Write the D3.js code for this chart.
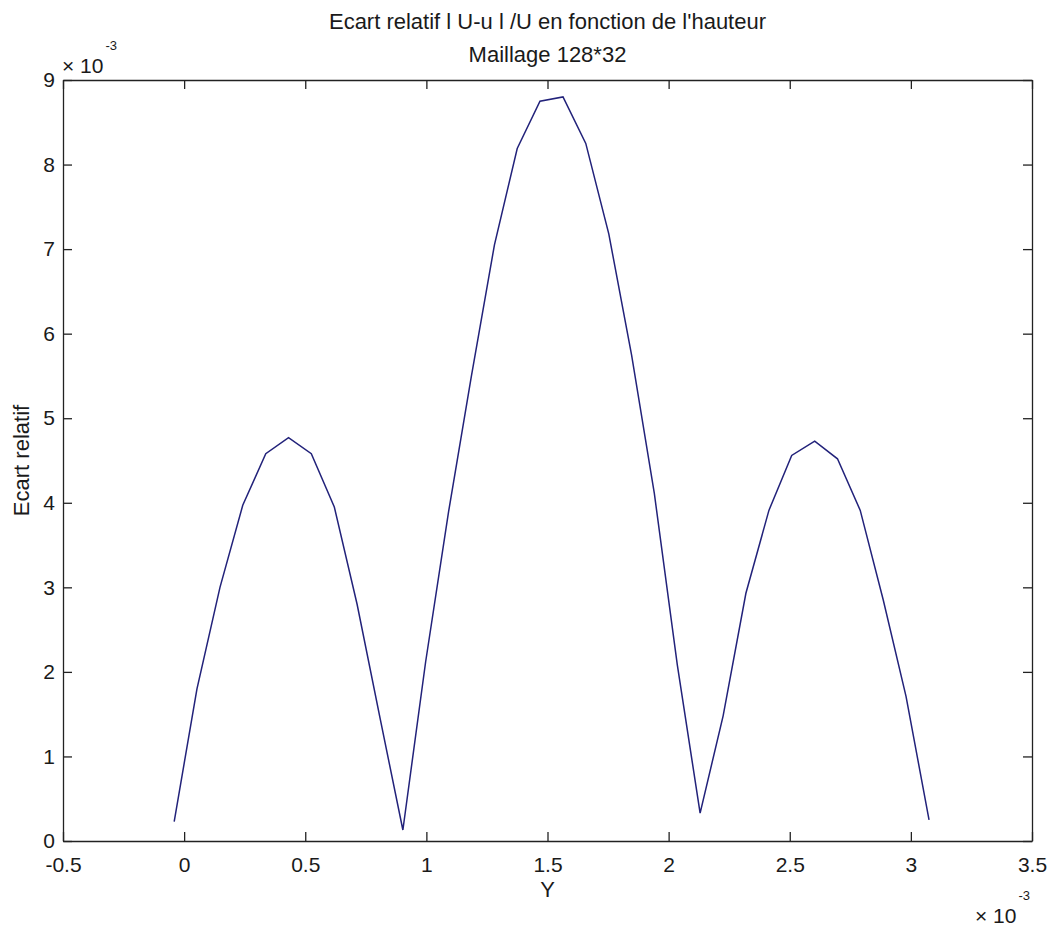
<!DOCTYPE html>
<html>
<head>
<meta charset="utf-8">
<script src="https://cdn.jsdelivr.net/npm/d3@7"></script>
<style>
  body { margin: 0; background: #fff; }
  text { font-family: "Liberation Sans", Arial, sans-serif; fill: #1a1a1a; }
</style>
</head>
<body>
<div id="myChart"></div>
<script>
// values in units of 1e-3 (as shown on the axes)
let yPos = [-0.041, 0.053, 0.148, 0.242, 0.337, 0.431, 0.525, 0.620, 0.714, 0.809, 0.903,
            0.997, 1.092, 1.186, 1.281, 1.375, 1.469, 1.564, 1.658, 1.753, 1.847, 1.941, 2.036, 2.130,
            2.225, 2.319, 2.414, 2.508, 2.603, 2.697, 2.791, 2.886, 2.980, 3.075];
let ecart = [0.23, 1.80, 3.00, 3.97, 4.58, 4.77, 4.58, 3.95, 2.80, 1.45, 0.13,
             2.12, 3.90, 5.50, 7.05, 8.19, 8.75, 8.80, 8.25, 7.18, 5.75, 4.11, 2.08, 0.33,
             1.48, 2.93, 3.91, 4.56, 4.73, 4.52, 3.91, 2.85, 1.71, 0.25];
let xTicks = [-0.5, 0, 0.5, 1, 1.5, 2, 2.5, 3, 3.5];
let yTicks = [0, 1, 2, 3, 4, 5, 6, 7, 8, 9];

let margin = { top: 80, right: 24, bottom: 91, left: 63 },
    width = 1056 - margin.left - margin.right,
    height = 932 - margin.top - margin.bottom;

let svg = d3.select("#myChart").append("svg")
  .attr("width", 1056)
  .attr("height", 932);

let g = svg.append("g")
  .attr("transform", "translate(" + margin.left + "," + margin.top + ")");

let x = d3.scaleLinear().domain([-0.5, 3.5]).range([0, width]);
let y = d3.scaleLinear().domain([0, 9]).range([height, 0]);

let fmt = d => String(d);

// bottom axis with labels
g.append("g")
  .attr("class", "axis")
  .attr("transform", "translate(0," + height + ")")
  .call(d3.axisBottom(x).tickValues(xTicks).tickSizeInner(-9).tickSizeOuter(0).tickPadding(16).tickFormat(fmt));

// left axis with labels
g.append("g")
  .attr("class", "axis")
  .call(d3.axisLeft(y).tickValues(yTicks).tickSizeInner(-9).tickSizeOuter(0).tickPadding(8).tickFormat(fmt));

// top and right, ticks only (box)
g.append("g")
  .attr("class", "axis")
  .call(d3.axisTop(x).tickValues(xTicks).tickSizeInner(-9).tickSizeOuter(0).tickFormat(""));
g.append("g")
  .attr("class", "axis")
  .attr("transform", "translate(" + width + ",0)")
  .call(d3.axisRight(y).tickValues(yTicks).tickSizeInner(-9).tickSizeOuter(0).tickFormat(""));

g.selectAll(".axis path, .axis line").attr("stroke", "#222").attr("stroke-width", 1.3);
g.selectAll(".axis text").attr("font-size", 21).attr("fill", "#1a1a1a")
  .attr("font-family", "'Liberation Sans', Arial, sans-serif");

// the curve
let line = d3.line()
  .x((d, i) => x(yPos[i]))
  .y(d => y(d));

g.append("path")
  .datum(ecart)
  .attr("fill", "none")
  .attr("stroke", "#22227a")
  .attr("stroke-width", 1.5)
  .attr("d", line);

// titles
svg.append("text")
  .attr("x", margin.left + width / 2).attr("y", 29)
  .attr("text-anchor", "middle").attr("font-size", 22)
  .text("Ecart relatif l U-u l /U en fonction de l'hauteur");
svg.append("text")
  .attr("x", margin.left + width / 2).attr("y", 62)
  .attr("text-anchor", "middle").attr("font-size", 22)
  .text("Maillage 128*32");

// axis labels
svg.append("text")
  .attr("x", margin.left + width / 2).attr("y", 897)
  .attr("text-anchor", "middle").attr("font-size", 22)
  .text("Y");
svg.append("text")
  .attr("transform", "translate(29," + (margin.top + height / 2) + ") rotate(-90)")
  .attr("text-anchor", "middle").attr("font-size", 22)
  .text("Ecart relatif");

// exponent markers
let topExp = svg.append("text").attr("x", 62).attr("y", 73).attr("font-size", 21);
topExp.append("tspan").text("\u00d7 10");
topExp.append("tspan").attr("dx", 2).attr("dy", -23).attr("font-size", 13).text("-3");

let botExp = svg.append("text").attr("x", 975).attr("y", 923).attr("font-size", 21);
botExp.append("tspan").text("\u00d7 10");
botExp.append("tspan").attr("dx", 2).attr("dy", -23).attr("font-size", 13).text("-3");
</script>
</body>
</html>
